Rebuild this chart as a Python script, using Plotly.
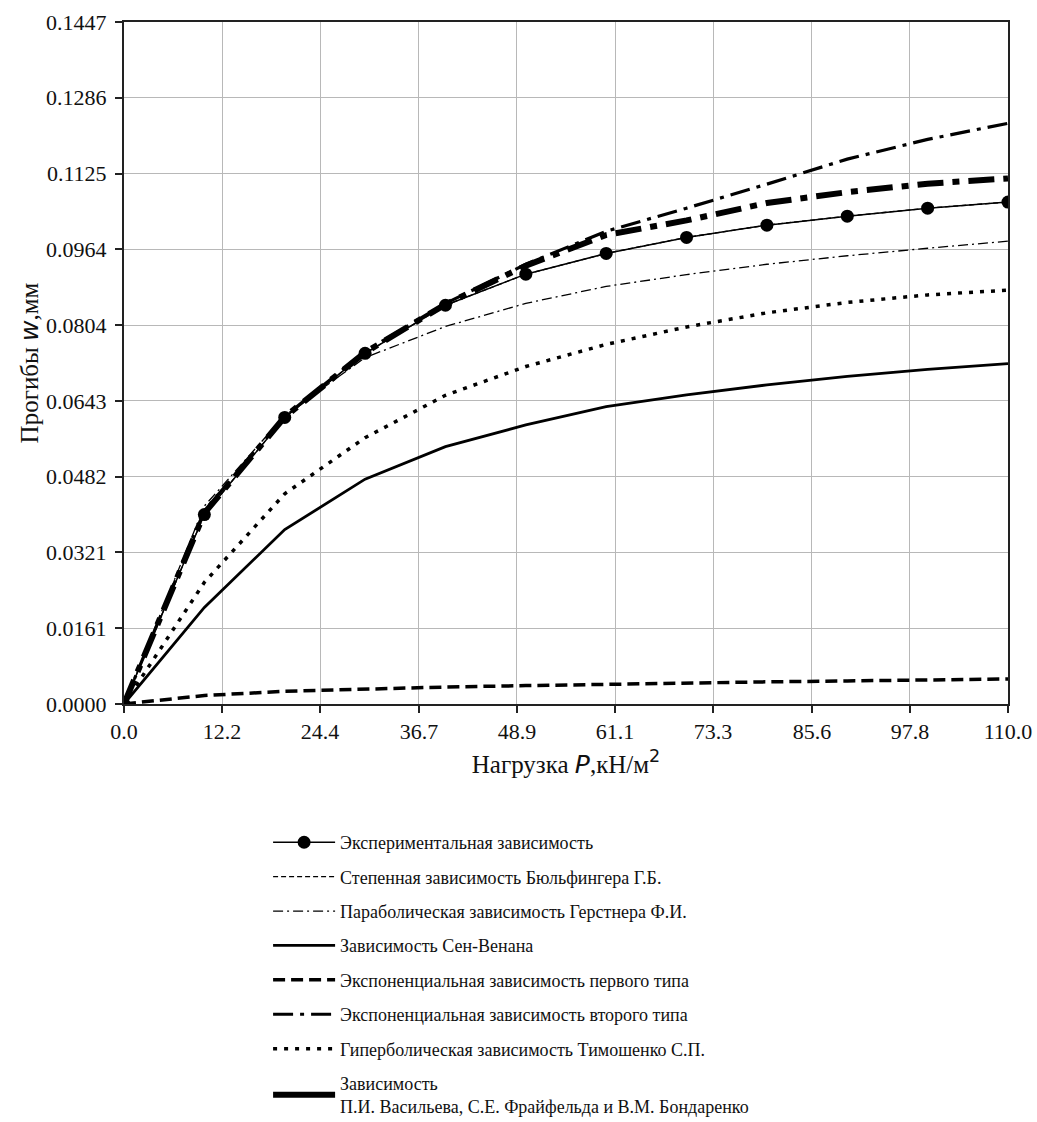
import plotly.graph_objects as go

# ---------------- data ----------------
P = [0, 10, 20, 30, 40, 50, 60, 70, 80, 90, 100, 110]

w_experiment = [0, 0.0402, 0.0608, 0.0744, 0.0846, 0.0912, 0.0956, 0.0990, 0.1016, 0.1035, 0.1052, 0.1065]
w_bulfinger = [0, 0.0402, 0.0608, 0.0744, 0.0846, 0.0912, 0.0956, 0.0990, 0.1016, 0.1035, 0.1052, 0.1065]
w_gerstner = [0, 0.0420, 0.0612, 0.0735, 0.0801, 0.0850, 0.0886, 0.0911, 0.0933, 0.0951, 0.0967, 0.0982]
w_saint_venant = [0, 0.0205, 0.0370, 0.0477, 0.0546, 0.0592, 0.0631, 0.0656, 0.0677, 0.0695, 0.0710, 0.0722]
w_exp1 = [0, 0.0018, 0.0027, 0.0032, 0.0036, 0.0039, 0.0042, 0.0045, 0.0047, 0.0049, 0.0051, 0.0053]
w_exp2 = [0, 0.0410, 0.0610, 0.0748, 0.0850, 0.0933, 0.1003, 0.1052, 0.1103, 0.1156, 0.1198, 0.1232]
w_timoshenko = [0, 0.0258, 0.0446, 0.0565, 0.0655, 0.0716, 0.0763, 0.0800, 0.0830, 0.0852, 0.0868, 0.0878]
w_vasiliev = [0, 0.0405, 0.0609, 0.0746, 0.0848, 0.0930, 0.0995, 0.1026, 0.1063, 0.1086, 0.1104, 0.1115]

x_ticks = [0.0, 12.2, 24.4, 36.7, 48.9, 61.1, 73.3, 85.6, 97.8, 110.0]
x_tick_text = ["0.0", "12.2", "24.4", "36.7", "48.9", "61.1", "73.3", "85.6", "97.8", "110.0"]
y_ticks = [0.0, 0.01608, 0.03216, 0.04823, 0.06431, 0.08039, 0.09647, 0.11254, 0.12862, 0.1447]
y_tick_text = ["0.0000", "0.0161", "0.0321", "0.0482", "0.0643", "0.0804", "0.0964", "0.1125", "0.1286", "0.1447"]

names = [
    "Экспериментальная зависимость",
    "Степенная зависимость Бюльфингера Г.Б.",
    "Параболическая зависимость Герстнера Ф.И.",
    "Зависимость Сен-Венана",
    "Экспоненциальная зависимость первого типа",
    "Экспоненциальная зависимость второго типа",
    "Гиперболическая зависимость Тимошенко С.П.",
    "Зависимость<br>П.И. Васильева, С.Е. Фрайфельда и В.М. Бондаренко",
]

SERIF = "Liberation Serif"

fig = go.Figure()

# Lines (drawn back-to-front)
fig.add_trace(go.Scatter(x=P, y=w_exp1, mode="lines", name=names[4], legendrank=5, legendgroup="g5",
                         line=dict(color="black", width=3.5, dash="12px,6px")))
fig.add_trace(go.Scatter(x=P, y=w_saint_venant, mode="lines", name=names[3], legendrank=4, legendgroup="g4",
                         line=dict(color="black", width=2.8)))
fig.add_trace(go.Scatter(x=P, y=w_timoshenko, mode="lines", name=names[6], legendrank=7, legendgroup="g7",
                         line=dict(color="black", width=3.5, dash="4px,7px")))
fig.add_trace(go.Scatter(x=P, y=w_gerstner, mode="lines", name=names[2], legendrank=3, legendgroup="g3",
                         line=dict(color="black", width=1.3, dash="10px,4px,2px,4px")))
fig.add_trace(go.Scatter(x=P, y=w_exp2, mode="lines", name=names[5], legendrank=6, legendgroup="g6",
                         line=dict(color="black", width=3.2, dash="20px,7px,4px,7px")))
fig.add_trace(go.Scatter(x=P, y=w_vasiliev, mode="lines", name=names[7], showlegend=False, legendgroup="g8",
                         line=dict(color="black", width=6, dash="26px,9px,7px,9px")))
fig.add_trace(go.Scatter(x=P, y=w_bulfinger, mode="lines", name=names[1], legendrank=2, legendgroup="g2",
                         line=dict(color="black", width=1.3, dash="5px,3px")))
fig.add_trace(go.Scatter(x=P, y=w_experiment, mode="lines+markers", name=names[0], legendrank=1, legendgroup="g1",
                         line=dict(color="black", width=1.5),
                         marker=dict(color="black", size=13, symbol="circle")))
# legend-only entry for the thick curve (solid bar in the legend)
fig.add_trace(go.Scatter(x=[None], y=[None], mode="lines", name=names[7], legendrank=8, legendgroup="g8",
                         line=dict(color="black", width=6)))

axis_common = dict(
    showline=True, linecolor="#222", linewidth=2, mirror=True,
    showgrid=True, gridcolor="#b8b8b8", gridwidth=1.3,
    ticks="outside", ticklen=7, tickwidth=2, tickcolor="#222",
    tickfont=dict(family=SERIF, size=22, color="#111"),
    zeroline=False, automargin=False, ticklabeloverflow="allow",
)

fig.update_xaxes(range=[0, 110], tickvals=x_ticks, ticktext=x_tick_text,
                 title=dict(text='Нагрузка <i><span style="font-family:DejaVu Sans">P</span></i>,кН/м<sup><span style="font-family:DejaVu Sans">2</span></sup>',
                            font=dict(family=SERIF, size=25, color="#111"), standoff=12),
                 **axis_common)
fig.update_yaxes(range=[0, 0.1447], tickvals=y_ticks, ticktext=y_tick_text,
                 ticklabelstandoff=4,
                 title=dict(text='Прогибы <i><span style="font-family:DejaVu Sans">w</span></i>,мм',
                            font=dict(family=SERIF, size=25, color="#111"), standoff=0),
                 **axis_common)

fig.update_layout(
    width=1037, height=1122,
    margin=dict(l=124, r=29, t=22, b=418, autoexpand=False),
    plot_bgcolor="white", paper_bgcolor="white",
    font=dict(family=SERIF, color="#111"),
    legend=dict(x=0.163, y=-0.176, xanchor="left", yanchor="top",
                font=dict(family=SERIF, size=18, color="#111"),
                itemwidth=62, tracegroupgap=8, bgcolor="rgba(0,0,0,0)"),
)

fig.write_html("out.html", config={"displayModeBar": False},
               post_script="document.body.style.margin='0';")
